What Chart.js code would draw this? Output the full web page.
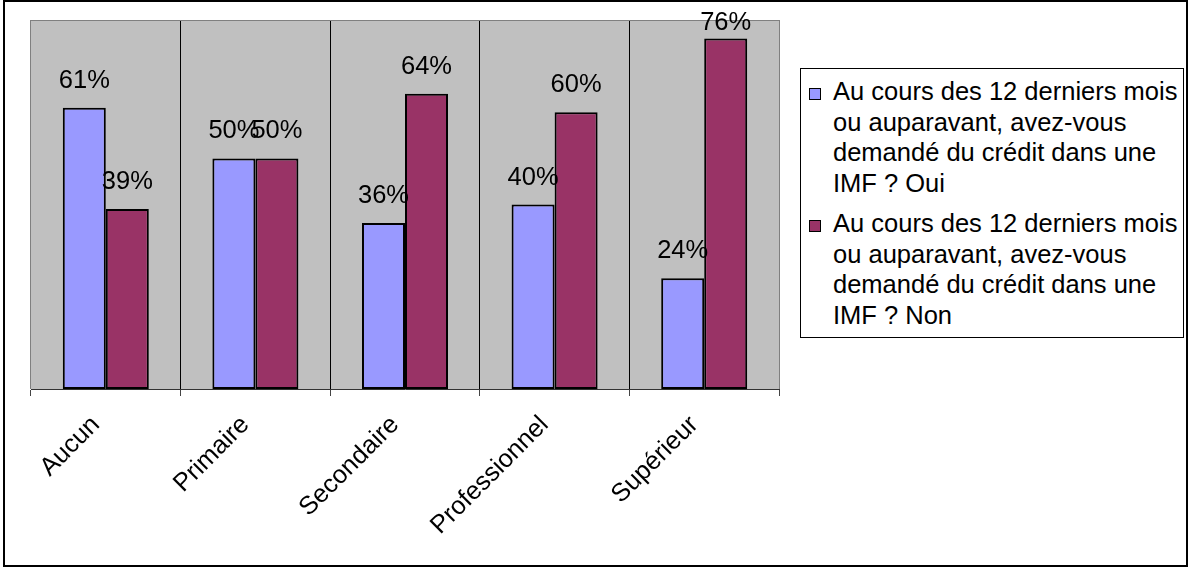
<!DOCTYPE html>
<html>
<head>
<meta charset="utf-8">
<script src="https://cdn.jsdelivr.net/npm/chart.js@4.4.1/dist/chart.umd.min.js"></script>
<style>
  body { margin: 0; background: #fff; }
  #wrap { position: relative; width: 1191px; height: 568px; font-family: "Liberation Sans", Arial, sans-serif; }
  #frame { position: absolute; left: 3px; top: 0px; width: 1181px; height: 563px; border: 2px solid #000; pointer-events: none; }
  #legend { position: absolute; left: 800px; top: 68px; width: 382px; border: 1px solid #000; padding: 7px 0; background: #fff; }
  .item { display: flex; align-items: flex-start; }
  .item + .item { margin-top: 10px; }
  .box { box-sizing: border-box; width: 12px; height: 12px; margin: 12px 0 0 8px; border: 1.5px solid #000; flex: none; }
  .txt { margin-left: 12px; width: 352px; font-size: 25.5px; line-height: 30.5px; color: #000; }
</style>
</head>
<body>
<div id="wrap">
  <canvas id="myChart" width="1191" height="568"></canvas>
  <div id="legend"></div>
  <div id="frame"></div>
</div>
<script>
// data
const categories = ["Aucun", "Primaire", "Secondaire", "Professionnel", "Supérieur"]
const seriesNames = [
  "Au cours des 12 derniers mois ou auparavant, avez-vous demandé du crédit dans une IMF ? Oui",
  "Au cours des 12 derniers mois ou auparavant, avez-vous demandé du crédit dans une IMF ? Non"
]
const ouiValues = [61, 50, 36, 40, 24]
const nonValues = [39, 50, 64, 60, 76]
const yMax = 80

Chart.defaults.font.family = '"Liberation Sans", Arial, sans-serif'
Chart.defaults.color = "#000"

// gray plot area behind everything
const plotBackground = {
  id: "plotBackground",
  beforeDraw(chart) {
    const a = chart.chartArea
    const ctx = chart.ctx
    ctx.save()
    ctx.fillStyle = "#C0C0C0"
    ctx.fillRect(a.left, a.top, a.right - a.left, a.bottom - a.top)
    ctx.restore()
  },
  beforeDatasetsDraw(chart) {
    const a = chart.chartArea
    const ctx = chart.ctx
    ctx.save()
    ctx.strokeStyle = "#808080"
    ctx.lineWidth = 1
    ctx.beginPath()
    ctx.moveTo(a.left, a.top + 0.5)
    ctx.lineTo(a.right, a.top + 0.5)
    ctx.stroke()
    ctx.restore()
  }
}

// value labels above each bar
const valueLabels = {
  id: "valueLabels",
  afterDatasetsDraw(chart) {
    const ctx = chart.ctx
    ctx.save()
    ctx.font = '25.5px "Liberation Sans", Arial, sans-serif'
    ctx.fillStyle = "#000"
    ctx.textAlign = "center"
    ctx.textBaseline = "alphabetic"
    chart.data.datasets.forEach(function (ds, i) {
      chart.getDatasetMeta(i).data.forEach(function (bar, j) {
        const y = Math.max(bar.y - 20, 30)
        ctx.fillText(ds.data[j] + "%", bar.x, y)
      })
    })
    ctx.restore()
  }
}

// legend as html so the long labels wrap like the original
const htmlLegend = {
  id: "htmlLegend",
  afterUpdate(chart) {
    const box = document.getElementById("legend")
    box.innerHTML = ""
    const items = chart.options.plugins.legend.labels.generateLabels(chart)
    items.forEach(function (item) {
      const row = document.createElement("div")
      row.className = "item"
      const sw = document.createElement("span")
      sw.className = "box"
      sw.style.background = item.fillStyle
      const t = document.createElement("span")
      t.className = "txt"
      t.textContent = item.text
      row.appendChild(sw)
      row.appendChild(t)
      box.appendChild(row)
    })
  }
}

const ctx = document.getElementById("myChart").getContext("2d")
const chart = new Chart(ctx, {
  type: "bar",
  data: {
    labels: categories,
    datasets: [
      { label: seriesNames[0], data: ouiValues, backgroundColor: "#9999FF", borderColor: "#000", borderWidth: 2, borderSkipped: false },
      { label: seriesNames[1], data: nonValues, backgroundColor: "#993366", borderColor: "#000", borderWidth: 2, borderSkipped: false }
    ]
  },
  options: {
    responsive: false,
    animation: false,
    devicePixelRatio: 1,
    layout: { padding: { left: 31, right: 412, top: 20, bottom: 4 } },
    datasets: { bar: { categoryPercentage: 0.575, barPercentage: 1 } },
    plugins: {
      legend: { display: false },
      tooltip: { enabled: false }
    },
    scales: {
      x: {
        grid: {
          offset: true,
          color: function (c) { return c.index > 0 ? "#000" : "#808080" },
          tickColor: "#444",
          tickLength: 7,
          lineWidth: 1
        },
        border: { display: true, color: "#333", width: 1 },
        ticks: {
          autoSkip: false,
          minRotation: 45,
          maxRotation: 45,
          padding: 14,
          labelOffset: -10,
          font: { size: 25.5 },
          color: "#000"
        },
        afterFit: function (s) { s.height = 175 }
      },
      y: { display: false, min: 0, max: yMax }
    }
  },
  plugins: [plotBackground, valueLabels, htmlLegend]
})
</script>
</body>
</html>
